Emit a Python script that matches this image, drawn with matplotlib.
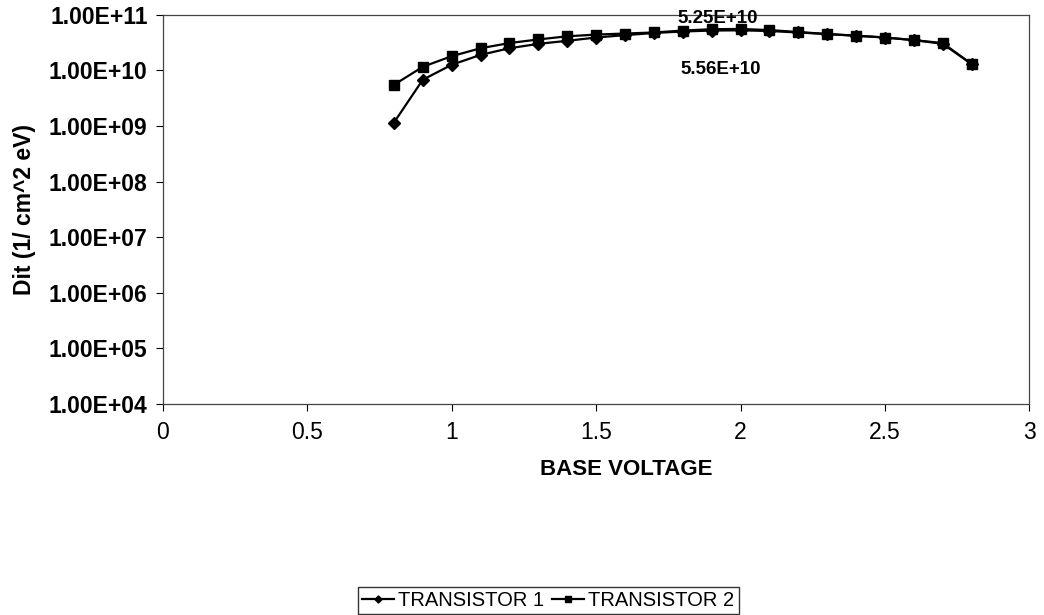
import matplotlib
matplotlib.use('Agg')
import matplotlib.pyplot as plt
from matplotlib.ticker import FixedLocator, FixedFormatter

plt.rcParams['font.family'] = ['Liberation Sans', 'DejaVu Sans']

base_voltage = [0.8, 0.9, 1.0, 1.1, 1.2, 1.3, 1.4, 1.5, 1.6, 1.7, 1.8,
                1.9, 2.0, 2.1, 2.2, 2.3, 2.4, 2.5, 2.6, 2.7, 2.8]
transistor1 = [1.15e9, 6.8e9, 1.26e10, 1.9e10, 2.5e10, 3.0e10, 3.4e10, 3.9e10,
               4.3e10, 4.7e10, 5.0e10, 5.2e10, 5.25e10, 5.1e10, 4.8e10, 4.5e10,
               4.2e10, 3.9e10, 3.5e10, 3.0e10, 1.3e10]
transistor2 = [5.5e9, 1.16e10, 1.8e10, 2.5e10, 3.1e10, 3.6e10, 4.1e10, 4.4e10,
               4.6e10, 4.8e10, 5.2e10, 5.5e10, 5.56e10, 5.3e10, 4.9e10, 4.5e10,
               4.2e10, 3.9e10, 3.5e10, 3.1e10, 1.3e10]
y_ticks = [1e4, 1e5, 1e6, 1e7, 1e8, 1e9, 1e10, 1e11]
y_tick_labels = ['1.00E+04', '1.00E+05', '1.00E+06', '1.00E+07',
                 '1.00E+08', '1.00E+09', '1.00E+10', '1.00E+11']
x_ticks = [0, 0.5, 1, 1.5, 2, 2.5, 3]
x_tick_labels = ['0', '0.5', '1', '1.5', '2', '2.5', '3']

fig = plt.figure(figsize=(10.44, 6.15), dpi=100)
ax = fig.add_axes([0.156, 0.343, 0.830, 0.633])

ax.plot(base_voltage, transistor1, color='black', lw=1.6, marker='D',
        markersize=6, label='TRANSISTOR 1')
ax.plot(base_voltage, transistor2, color='black', lw=1.6, marker='s',
        markersize=7.5, label='TRANSISTOR 2')

ax.set_yscale('log')
ax.set_ylim(1e4, 1e11)
ax.set_xlim(0, 3)
ax.yaxis.set_major_locator(FixedLocator(y_ticks))
ax.yaxis.set_major_formatter(FixedFormatter(y_tick_labels))
ax.yaxis.set_minor_locator(FixedLocator([]))
ax.set_xticks(x_ticks)
ax.set_xticklabels(x_tick_labels)

for s in ax.spines.values():
    s.set_color('#444444')
    s.set_linewidth(0.9)
ax.tick_params(axis='y', direction='out', length=5, width=0.8, labelsize=16.5, pad=6)
ax.tick_params(axis='x', direction='out', length=5, width=0.8, labelsize=16.5, pad=7)
for lab in ax.get_yticklabels():
    lab.set_fontweight('bold')

ax.set_xlabel('BASE VOLTAGE', fontsize=16, fontweight='bold')
ax.xaxis.set_label_coords(0.535, -0.14)
ax.set_ylabel('Dit (1/ cm^2 eV)', fontsize=16.5, fontweight='bold', labelpad=9)

ax.text(1.92, 6.0e10, '5.25E+10', fontsize=13.5, fontweight='bold', ha='center', va='bottom')
ax.text(1.93, 1.05e10, '5.56E+10', fontsize=13.5, fontweight='bold', ha='center', va='center')

leg = fig.legend(loc='lower center', bbox_to_anchor=(0.525, 0.0), ncol=2,
                 fontsize=14.5, frameon=True, fancybox=False, borderpad=0.2,
                 handlelength=1.6, handletextpad=0.2, columnspacing=0.4,
                 markerscale=0.6, borderaxespad=0.05)
leg.get_frame().set_edgecolor('black')
leg.get_frame().set_linewidth(1.0)

fig.savefig('out.png', dpi=100)
